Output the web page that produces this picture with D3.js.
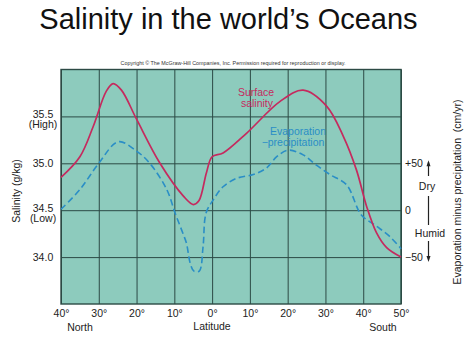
<!DOCTYPE html>
<html><head><meta charset="utf-8">
<script src="https://cdn.jsdelivr.net/npm/d3@7"></script>
<style>
html,body{margin:0;padding:0;background:#fff;}
svg{display:block;font-family:"Liberation Sans",Arial,sans-serif;}
</style></head>
<body>
<svg id="c" width="474" height="355"></svg>
<script>
// ---- data ----
const xTicks = [40, 30, 20, 10, 0, -10, -20, -30, -40, -50]; // latitude, north positive
const salTicks = [34.0, 34.5, 35.0, 35.5];
const salTickNotes = {"34.5": "(Low)", "35.5": "(High)"};
const epTicks = [50, 0, -50];
const epTickLabels = ["+50", "0", "\u221250"];

const salLat = [40, 35, 31.5, 28, 26.2, 24, 20, 13.8, 7.6, 5, 3.5, 1.5, 0, -2.9, -9.1, -18, -24.1, -30.3, -34.7, -38.2, -40.9, -43.5, -46.2, -50];
const salVal = [34.85, 35.07, 35.39, 35.77, 35.85, 35.78, 35.47, 35.0, 34.65, 34.56, 34.60, 34.9, 35.07, 35.11, 35.32, 35.66, 35.78, 35.61, 35.29, 34.93, 34.54, 34.26, 34.10, 34.0];

const epLat = [40, 35, 30, 24.8, 20, 16.5, 12, 9.8, 7.6, 6.8, 5.7, 4.8, 3.4, 2.4, 1.6, -0.3, -2.9, -6.5, -10.9, -14.4, -17.1, -20.1, -24.1, -27.6, -31.2, -35.6, -39.5, -43.5, -47, -50];
const epVal = [1, 22, 50, 73, 63, 50, 22, -3, -26, -35, -58, -65, -65, -39, -3, 11, 25, 34, 38, 45, 57, 64, 59, 48, 38, 27, -5, -17, -28, -41];

// ---- layout ----
const L = 61, R = 401, T = 69.5, B = 304;
const svg = d3.select("#c");
const x = d3.scaleLinear().domain([40, -50]).range([L, R]);
const y = d3.scaleLinear().domain([33.5, 36.0]).range([B, T]);
const yEP = d3.scaleLinear().domain([-100, 150]).range([B, T]);

const teal = "#8dcbbd", grid = "#2c4a45";
const red = "#c52a5e", blue = "#2a8ec6";

// title
svg.append("text").attr("x", 228.5).attr("y", 29).attr("text-anchor", "middle")
  .attr("font-size", 29).attr("fill", "#111").text("Salinity in the world\u2019s Oceans");
svg.append("text").attr("x", 233).attr("y", 64.5).attr("text-anchor", "middle")
  .attr("font-size", 5.4).attr("fill", "#333")
  .text("Copyright \u00A9 The McGraw-Hill Companies, Inc. Permission required for reproduction or display.");

// plot background
svg.append("rect").attr("x", L).attr("y", T).attr("width", R - L).attr("height", B - T).attr("fill", teal);

// gridlines
const gx = svg.append("g").attr("transform", `translate(0,${B})`)
  .call(d3.axisBottom(x).tickValues(xTicks).tickSize(-(B - T)).tickFormat(""));
gx.select(".domain").remove();
gx.selectAll("line").attr("stroke", grid).attr("stroke-width", 1);
const gy = svg.append("g").attr("transform", `translate(${L},0)`)
  .call(d3.axisLeft(y).tickValues(salTicks).tickSize(-(R - L)).tickFormat(""));
gy.select(".domain").remove();
gy.selectAll("line").attr("stroke", grid).attr("stroke-width", 1);

// border
svg.append("rect").attr("x", L).attr("y", T).attr("width", R - L).attr("height", B - T)
  .attr("fill", "none").attr("stroke", grid).attr("stroke-width", 1.4);

// lines
const lineS = d3.line().x((d, i) => x(salLat[i])).y(d => y(d)).curve(d3.curveCatmullRom.alpha(0.5));
const lineE = d3.line().x((d, i) => x(epLat[i])).y(d => yEP(d)).curve(d3.curveCatmullRom.alpha(0.5));
svg.append("path").datum(epVal).attr("d", lineE).attr("fill", "none")
  .attr("stroke", blue).attr("stroke-width", 1.6).attr("stroke-dasharray", "6.5,3.5");
svg.append("path").datum(salVal).attr("d", lineS).attr("fill", "none")
  .attr("stroke", red).attr("stroke-width", 1.7);

// in-plot labels
const fs = 10.5;
svg.append("text").attr("x", 256).attr("y", 96).attr("text-anchor", "middle").attr("font-size", fs).attr("fill", red).text("Surface");
svg.append("text").attr("x", 257).attr("y", 107).attr("text-anchor", "middle").attr("font-size", fs).attr("fill", red).text("salinity");
svg.append("text").attr("x", 298).attr("y", 135).attr("text-anchor", "middle").attr("font-size", fs).attr("fill", blue).text("Evaporation");
svg.append("text").attr("x", 293).attr("y", 146).attr("text-anchor", "middle").attr("font-size", fs).attr("fill", blue).text("\u2212precipitation");

// left axis
const ax = svg.append("g").attr("transform", `translate(${L},0)`)
  .call(d3.axisLeft(y).tickValues(salTicks).tickSize(0).tickPadding(8).tickFormat(d3.format(".1f")));
ax.select(".domain").remove();
ax.selectAll("text").attr("font-size", fs).attr("fill", "#222").attr("font-family", null)
  .attr("text-anchor", "middle").attr("x", -18)
  .each(function(d) {
    const note = salTickNotes[d.toFixed(1)];
    if (note) {
      const t = d3.select(this);
      t.attr("dy", "0.1em");
      t.append("tspan").attr("x", -18).attr("dy", "1.0em").text(note);
    }
  });
svg.append("text").attr("transform", "translate(20,191) rotate(-90)").attr("text-anchor", "middle")
  .attr("font-size", fs).attr("fill", "#222").text("Salinity (g/kg)");

// bottom axis
const bx = svg.append("g").attr("transform", `translate(0,${B})`)
  .call(d3.axisBottom(x).tickValues(xTicks).tickSize(0).tickPadding(6).tickFormat(d => Math.abs(d) + "\u00B0"));
bx.select(".domain").remove();
bx.selectAll("text").attr("font-size", fs).attr("fill", "#222").attr("font-family", null);
svg.append("text").attr("x", 80).attr("y", 331).attr("text-anchor", "middle").attr("font-size", fs).attr("fill", "#222").text("North");
svg.append("text").attr("x", 212).attr("y", 330).attr("text-anchor", "middle").attr("font-size", fs).attr("fill", "#222").text("Latitude");
svg.append("text").attr("x", 383).attr("y", 331).attr("text-anchor", "middle").attr("font-size", fs).attr("fill", "#222").text("South");

// right axis
const rx = svg.append("g").attr("transform", `translate(${R},0)`)
  .call(d3.axisRight(yEP).tickValues(epTicks).tickSize(0).tickPadding(4)
    .tickFormat((d, i) => epTickLabels[i]));
rx.select(".domain").remove();
rx.selectAll("text").attr("font-size", fs).attr("fill", "#222").attr("font-family", null);

// dry / humid arrow
const ax0 = 428.5;
const arr = svg.append("g").attr("stroke", "#222").attr("stroke-width", 1.2);
arr.append("line").attr("x1", ax0).attr("x2", ax0).attr("y1", yEP(50) - 1).attr("y2", 176);
arr.append("line").attr("x1", ax0).attr("x2", ax0).attr("y1", 196).attr("y2", 225);
arr.append("line").attr("x1", ax0).attr("x2", ax0).attr("y1", 241).attr("y2", yEP(-50) + 2);
svg.append("path").attr("d", `M${ax0-2},${yEP(50)+3} L${ax0},${yEP(50)-3} L${ax0+2},${yEP(50)+3}Z`).attr("fill", "#222");
svg.append("path").attr("d", `M${ax0-2},${yEP(-50)-1} L${ax0},${yEP(-50)+5} L${ax0+2},${yEP(-50)-1}Z`).attr("fill", "#222");
svg.append("text").attr("x", 427).attr("y", 190).attr("text-anchor", "middle").attr("font-size", fs).attr("fill", "#222").text("Dry");
svg.append("text").attr("x", 430).attr("y", 237).attr("text-anchor", "middle").attr("font-size", fs).attr("fill", "#222").text("Humid");
svg.append("text").attr("transform", "translate(461,192) rotate(-90)").attr("text-anchor", "middle")
  .attr("font-size", fs).attr("fill", "#222").attr("xml:space", "preserve")
  .text("Evaporation minus precipitation\u00A0\u00A0(cm/yr)");
</script>
</body></html>
